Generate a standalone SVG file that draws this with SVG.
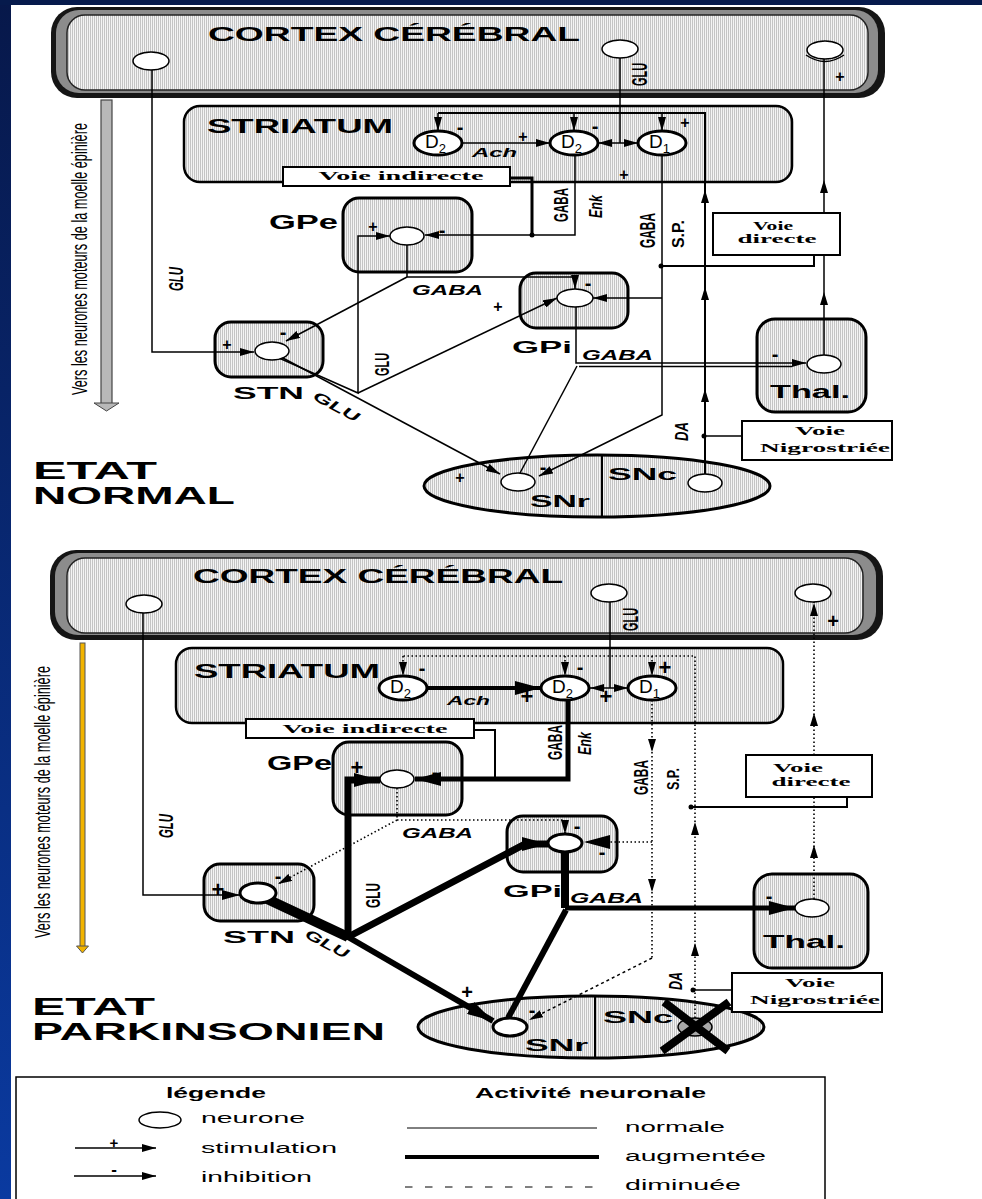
<svg xmlns="http://www.w3.org/2000/svg" width="982" height="1199" viewBox="0 0 982 1199">
<defs>
<linearGradient id="blue" x1="0" y1="0" x2="0" y2="1"><stop offset="0" stop-color="#07184a"/><stop offset="1" stop-color="#0a3aa0"/></linearGradient>
<pattern id="hatch" width="2" height="4" patternUnits="userSpaceOnUse"><rect width="2" height="4" fill="#f4f4f4"/><rect width="1" height="4" fill="#c4c4c4"/></pattern>
<marker id="ar" viewBox="0 0 14 8" refX="14" refY="4" markerWidth="14" markerHeight="8" markerUnits="userSpaceOnUse" orient="auto"><path d="M0,0L14,4L0,8z"/></marker>
<marker id="arM" viewBox="0 0 18 10" refX="18" refY="5" markerWidth="18" markerHeight="10" markerUnits="userSpaceOnUse" orient="auto"><path d="M0,0L18,5L0,10z"/></marker>
<marker id="arB" viewBox="0 0 26 14" refX="26" refY="7" markerWidth="26" markerHeight="14" markerUnits="userSpaceOnUse" orient="auto"><path d="M0,0L26,7L0,14z"/></marker>
<path id="up" d="M0,0L-4,13L4,13z"/>
<path id="dn" d="M0,0L-4,-13L4,-13z"/>
</defs>
<style>
.t{font-family:"Liberation Sans",Arial,sans-serif;font-weight:bold;fill:#000}
.ti{font-family:"Liberation Sans",Arial,sans-serif;font-weight:bold;font-style:italic;fill:#000}
.r{font-family:"Liberation Sans",Arial,sans-serif;fill:#000}
.s{font-family:"Liberation Serif","Times New Roman",serif;font-weight:bold;fill:#000;text-anchor:middle}
.n{fill:#fff;stroke:#000;stroke-width:1.5}
.nk{fill:#fff;stroke:#000;stroke-width:3}
.box{fill:url(#hatch);stroke:#000;stroke-width:3}
.c{fill:none;stroke:#000;stroke-width:1.5}
.cd{fill:none;stroke:#000;stroke-width:1.6;stroke-dasharray:1.5 2.5}
.vb{fill:#fff;stroke:#000;stroke-width:2}
.sg{font-family:"Liberation Sans",Arial,sans-serif;font-weight:bold;text-anchor:middle;fill:#000}
</style>

<rect width="982" height="1199" fill="#fff"/>
<rect x="0" y="0" width="11" height="1199" fill="url(#blue)"/>
<rect x="0" y="0" width="982" height="5" fill="#061a4c"/>

<!-- ===================== NORMAL STATE ===================== -->
<g id="cortex-normal">
<rect x="51" y="7" width="834" height="91" rx="26" fill="#151515"/>
<rect x="56" y="10" width="822" height="83" rx="23" fill="#8c8c8c"/>
<rect x="67" y="15" width="801" height="75" rx="18" fill="url(#hatch)" stroke="#222" stroke-width="1.5"/>
<text class="t" x="208" y="41" font-size="20" textLength="372" lengthAdjust="spacingAndGlyphs">CORTEX CÉRÉBRAL</text>
<ellipse class="n" cx="151" cy="61" rx="18" ry="9"/>
<ellipse class="n" cx="620" cy="49" rx="18" ry="9"/>
<ellipse class="n" cx="825" cy="50" rx="18" ry="9"/>
<path class="c" d="M806,55 Q825,68 844,55"/>
</g>

<g id="spinal-normal">
<rect x="101" y="100" width="11" height="304" fill="#b8b8b8" stroke="#444" stroke-width="1.2"/>
<polygon points="94,403 119,403 106.5,411" fill="#b8b8b8" stroke="#444"/>
<text class="r" transform="translate(87,395) rotate(-90) scale(1,1.9)" font-size="12" textLength="272" lengthAdjust="spacingAndGlyphs">Vers les neurones moteurs de la moelle épinière</text>
</g>

<g id="striatum-normal">
<rect class="box" x="184" y="106" width="608" height="76" rx="16" style="stroke-width:2.5"/>
<text class="t" x="207" y="133" font-size="20" textLength="186" lengthAdjust="spacingAndGlyphs">STRIATUM</text>
</g>
<g id="voie-indirecte-normal">
<rect class="vb" x="283" y="167" width="227" height="19"/>
<text class="s" x="401" y="180" font-size="13" textLength="165" lengthAdjust="spacingAndGlyphs">Voie indirecte</text>
</g>
<g id="gpe-normal">
<rect class="box" x="343" y="198" width="129" height="74" rx="16"/>
<text class="t" x="269" y="229" font-size="20" textLength="69" lengthAdjust="spacingAndGlyphs">GPe</text>
</g>
<g id="gpi-normal">
<rect class="box" x="520" y="273" width="108" height="55" rx="16"/>
<text class="t" x="512" y="353" font-size="17" textLength="60" lengthAdjust="spacingAndGlyphs">GPi</text>
</g>
<g id="stn-normal">
<rect class="box" x="215" y="322" width="108" height="55" rx="16"/>
<text class="t" x="233" y="399" font-size="17" textLength="71" lengthAdjust="spacingAndGlyphs">STN</text>
</g>
<g id="thal-normal">
<rect class="box" x="757" y="319" width="109" height="93" rx="18"/>
<text class="t" x="770" y="398" font-size="18" textLength="80" lengthAdjust="spacingAndGlyphs">Thal.</text>
</g>
<g id="sn-normal">
<ellipse cx="597" cy="486" rx="173" ry="31" fill="url(#hatch)" stroke="#000" stroke-width="3"/>
<line x1="602" y1="455" x2="602" y2="517" stroke="#000" stroke-width="2"/>
<text class="t" x="608" y="480" font-size="17" textLength="69" lengthAdjust="spacingAndGlyphs">SNc</text>
<text class="t" x="530" y="507" font-size="17" textLength="60" lengthAdjust="spacingAndGlyphs">SNr</text>
</g>
<g id="voie-directe-normal">
<rect class="vb" x="713" y="213" width="127" height="42"/>
<text class="s" x="773" y="230" font-size="13" textLength="40" lengthAdjust="spacingAndGlyphs">Voie</text>
<text class="s" x="777" y="243" font-size="13" textLength="79" lengthAdjust="spacingAndGlyphs">directe</text>
</g>
<g id="voie-nigro-normal">
<rect class="vb" x="742" y="421" width="150" height="39"/>
<text class="s" x="820" y="435" font-size="13" textLength="50" lengthAdjust="spacingAndGlyphs">Voie</text>
<text class="s" x="825" y="452" font-size="13" textLength="130" lengthAdjust="spacingAndGlyphs">Nigrostriée</text>
</g>

<g id="connectors-normal">
<path class="c" d="M152,70 V352 H254" marker-end="url(#ar)"/>
<path class="c" style="stroke-width:2" d="M705,474 V113 H438"/>
<path class="c" d="M438,113 V131" marker-end="url(#ar)"/>
<path class="c" d="M574,113 V131" marker-end="url(#ar)"/>
<path class="c" d="M662,113 V131" marker-end="url(#ar)"/>
<use href="#up" x="705" y="190"/>
<use href="#up" x="705" y="287"/>
<use href="#up" x="705" y="389"/>
<path class="c" d="M463,143 H550" marker-end="url(#ar)"/>
<path class="c" d="M620,58 V143"/>
<path class="c" d="M620,143 H598" marker-end="url(#ar)"/>
<path class="c" d="M620,143 H638" marker-end="url(#ar)"/>
<path class="c" d="M575,155 V235 H425" marker-end="url(#ar)"/>
<path class="c" style="stroke-width:3" d="M511,178 H532 V235"/>
<circle cx="532" cy="235" r="2.5"/>
<path class="c" d="M662,155 V415 L539,476" marker-end="url(#ar)"/>
<path class="c" d="M662,298 H593" marker-end="url(#ar)"/>
<path class="c" style="stroke-width:2" d="M661,266 H814 V255"/>
<circle cx="661" cy="266" r="2.5"/>
<path class="c" d="M824,355 V255"/>
<path class="c" d="M824,213 V59"/>
<use href="#up" x="824" y="180"/>
<use href="#up" x="824" y="292"/>
<path class="c" d="M407,245 V277 H575 V289" marker-end="url(#ar)"/>
<path class="c" d="M407,277 L286,341" marker-end="url(#ar)"/>
<path class="c" d="M279,358 L358,393 V236 H390" marker-end="url(#ar)"/>
<path class="c" d="M358,393 L557,298" marker-end="url(#ar)"/>
<path class="c" d="M281,357 L500,474" marker-end="url(#ar)"/>
<path class="c" d="M576,307 V363 H806" marker-end="url(#ar)"/>
<path class="c" d="M579,366.5 H792"/>
<path class="c" d="M577,366 L520,473"/>
<path class="c" d="M705,436 H742"/>
<circle cx="704" cy="436" r="2.5"/>
</g>

<g id="neurons-normal">
<ellipse class="n" cx="407" cy="236" rx="17" ry="9"/>
<ellipse class="n" cx="575" cy="298" rx="18" ry="9"/>
<ellipse class="n" cx="272" cy="351" rx="17" ry="9"/>
<ellipse class="n" cx="824" cy="364" rx="17" ry="9"/>
<ellipse class="n" cx="518" cy="482" rx="17" ry="9"/>
<ellipse class="n" cx="705" cy="483" rx="17" ry="9"/>
<g id="d2a-normal"><ellipse class="nk" cx="438" cy="143" rx="24" ry="12"/><text class="r" x="425" y="148" font-size="19">D<tspan dy="5" font-size="13">2</tspan></text></g>
<g id="d2b-normal"><ellipse class="nk" cx="574" cy="143" rx="24" ry="12"/><text class="r" x="561" y="148" font-size="19">D<tspan dy="5" font-size="13">2</tspan></text></g>
<g id="d1-normal"><ellipse class="nk" cx="662" cy="143" rx="24" ry="12"/><text class="r" x="649" y="148" font-size="19">D<tspan dy="5" font-size="13">1</tspan></text></g>
</g>

<g id="labels-normal">
<text class="sg" x="227" y="350" font-size="16">+</text>
<text class="sg" x="283" y="339" font-size="20">-</text>
<text class="sg" x="460" y="134" font-size="20">-</text>
<text class="sg" x="523" y="142" font-size="16">+</text>
<text class="sg" x="595" y="133" font-size="20">-</text>
<text class="sg" x="685" y="128" font-size="16">+</text>
<text class="sg" x="624" y="180" font-size="16">+</text>
<text class="sg" x="840" y="82" font-size="16">+</text>
<text class="sg" x="373" y="232" font-size="16">+</text>
<text class="sg" x="442" y="237" font-size="20">-</text>
<text class="sg" x="588" y="290" font-size="20">-</text>
<text class="sg" x="498" y="312" font-size="16">+</text>
<text class="sg" x="775" y="361" font-size="20">-</text>
<text class="sg" x="543" y="474" font-size="20">-</text>
<text class="sg" x="460" y="483" font-size="16">+</text>
<text class="ti" transform="translate(183,291) rotate(-90)" font-size="20" textLength="24" lengthAdjust="spacingAndGlyphs">GLU</text>
<text class="t" transform="translate(647,86) rotate(-90)" font-size="22" textLength="23" lengthAdjust="spacingAndGlyphs">GLU</text>
<text class="t" transform="translate(568,222) rotate(-90)" font-size="21" textLength="34" lengthAdjust="spacingAndGlyphs">GABA</text>
<text class="ti" transform="translate(602,218) rotate(-90)" font-size="19" textLength="23" lengthAdjust="spacingAndGlyphs">Enk</text>
<text class="t" transform="translate(655,248) rotate(-90)" font-size="22" textLength="35" lengthAdjust="spacingAndGlyphs">GABA</text>
<text class="t" transform="translate(684,248) rotate(-90)" font-size="17" textLength="28" lengthAdjust="spacingAndGlyphs">S.P.</text>
<text class="t" transform="translate(389,376) rotate(-90)" font-size="20" textLength="23" lengthAdjust="spacingAndGlyphs">GLU</text>
<text class="ti" transform="translate(688,441) rotate(-90)" font-size="18" textLength="19" lengthAdjust="spacingAndGlyphs">DA</text>
<text class="ti" x="412" y="295" font-size="14" textLength="71" lengthAdjust="spacingAndGlyphs">GABA</text>
<text class="ti" x="582" y="360" font-size="14" textLength="71" lengthAdjust="spacingAndGlyphs">GABA</text>
<text class="ti" x="472" y="157" font-size="13" textLength="45" lengthAdjust="spacingAndGlyphs">Ach</text>
<text class="ti" transform="translate(312,399) rotate(28)" font-size="14" textLength="50" lengthAdjust="spacingAndGlyphs">GLU</text>
<text class="t" x="33" y="479" font-size="24" textLength="124" lengthAdjust="spacingAndGlyphs">ETAT</text>
<text class="t" x="33" y="504" font-size="24" textLength="202" lengthAdjust="spacingAndGlyphs">NORMAL</text>
</g>

<!-- ===================== PARKINSONIAN STATE ===================== -->
<g id="cortex-park">
<rect x="50" y="550" width="833" height="90" rx="26" fill="#151515"/>
<rect x="55" y="553" width="821" height="82" rx="23" fill="#8c8c8c"/>
<rect x="67" y="558" width="796" height="75" rx="18" fill="url(#hatch)" stroke="#222" stroke-width="1.5"/>
<text class="t" x="193" y="583" font-size="20" textLength="370" lengthAdjust="spacingAndGlyphs">CORTEX CÉRÉBRAL</text>
<ellipse class="n" cx="144" cy="604" rx="18" ry="9"/>
<ellipse class="n" cx="609" cy="593" rx="18" ry="9"/>
<ellipse class="n" cx="813" cy="593" rx="18" ry="9"/>
</g>

<g id="spinal-park">
<rect x="80" y="643" width="5" height="304" fill="#f2b400" stroke="#555" stroke-width="1"/>
<polygon points="76.5,946 88.5,946 82.5,953" fill="#f2b400" stroke="#555" stroke-width="1"/>
<text class="r" transform="translate(50,938) rotate(-90) scale(1,1.9)" font-size="12" textLength="272" lengthAdjust="spacingAndGlyphs">Vers les neurones moteurs de la moelle épinière</text>
</g>

<g id="striatum-park">
<rect class="box" x="176" y="648" width="607" height="75" rx="16" style="stroke-width:2.5"/>
<text class="t" x="194" y="678" font-size="20" textLength="186" lengthAdjust="spacingAndGlyphs">STRIATUM</text>
</g>
<g id="voie-indirecte-park">
<rect class="vb" x="246" y="719" width="228" height="19"/>
<text class="s" x="365" y="733" font-size="13" textLength="165" lengthAdjust="spacingAndGlyphs">Voie indirecte</text>
</g>
<g id="gpe-park">
<rect class="box" x="333" y="742" width="129" height="73" rx="16"/>
<text class="t" x="267" y="770" font-size="20" textLength="65" lengthAdjust="spacingAndGlyphs">GPe</text>
</g>
<g id="gpi-park">
<rect class="box" x="507" y="816" width="110" height="56" rx="16"/>
<text class="t" x="503" y="897" font-size="17" textLength="59" lengthAdjust="spacingAndGlyphs">GPi</text>
</g>
<g id="stn-park">
<rect class="box" x="204" y="864" width="110" height="57" rx="16"/>
<text class="t" x="223" y="943" font-size="17" textLength="72" lengthAdjust="spacingAndGlyphs">STN</text>
</g>
<g id="thal-park">
<rect class="box" x="754" y="874" width="114" height="94" rx="18"/>
<text class="t" x="763" y="948" font-size="18" textLength="82" lengthAdjust="spacingAndGlyphs">Thal.</text>
</g>
<g id="sn-park">
<ellipse cx="591" cy="1027" rx="173" ry="31" fill="url(#hatch)" stroke="#000" stroke-width="3"/>
<line x1="595" y1="997" x2="595" y2="1058" stroke="#000" stroke-width="2"/>
<text class="t" x="603" y="1023" font-size="17" textLength="70" lengthAdjust="spacingAndGlyphs">SNc</text>
<text class="t" x="525" y="1051" font-size="17" textLength="63" lengthAdjust="spacingAndGlyphs">SNr</text>
</g>
<g id="voie-directe-park">
<rect class="vb" x="746" y="755" width="126" height="42"/>
<text class="s" x="798" y="772" font-size="13" textLength="50" lengthAdjust="spacingAndGlyphs">Voie</text>
<text class="s" x="811" y="786" font-size="13" textLength="79" lengthAdjust="spacingAndGlyphs">directe</text>
</g>
<g id="voie-nigro-park">
<rect class="vb" x="732" y="973" width="150" height="39"/>
<text class="s" x="810" y="987" font-size="13" textLength="50" lengthAdjust="spacingAndGlyphs">Voie</text>
<text class="s" x="815" y="1004" font-size="13" textLength="130" lengthAdjust="spacingAndGlyphs">Nigrostriée</text>
</g>

<g id="connectors-park">
<path class="c" d="M143,613 V895 H240" marker-end="url(#arM)"/>
<path class="cd" d="M695,1018 V656 H403"/>
<path class="cd" d="M403,656 V676" marker-end="url(#ar)"/>
<path class="cd" d="M565,656 V676" marker-end="url(#ar)"/>
<path class="cd" d="M652,656 V676" marker-end="url(#ar)"/>
<use href="#up" x="695" y="822"/>
<use href="#up" x="695" y="943"/>
<path class="c" style="stroke-width:4" d="M428,688 H541" marker-end="url(#arB)"/>
<path class="c" d="M610,602 V688"/>
<path class="c" d="M610,688 H590" marker-end="url(#ar)"/>
<path class="c" d="M610,688 H628" marker-end="url(#ar)"/>
<path class="c" style="stroke-width:5" d="M568,700 V779 H415" marker-end="url(#arB)"/>
<path class="c" style="stroke-width:2" d="M474,730 H495 V780"/>
<path class="cd" d="M652,700 V958"/>
<use href="#dn" x="652" y="752"/>
<use href="#dn" x="652" y="892"/>
<path class="c" stroke-dasharray="3 3" d="M652,958 L529,1020" marker-end="url(#ar)"/>
<path class="cd" d="M652,842 H584" marker-end="url(#arB)"/>
<path class="c" style="stroke-width:2" d="M691,807 H847 V797"/>
<circle cx="691" cy="807" r="2.5"/>
<path class="cd" d="M814,899 V797"/>
<path class="cd" d="M814,755 V602"/>
<use href="#up" x="814" y="603"/>
<use href="#up" x="814" y="713"/>
<use href="#up" x="814" y="845"/>
<path class="cd" d="M397,788 V820 H565 V834" marker-end="url(#ar)"/>
<path class="cd" d="M397,820 L278,884" marker-end="url(#ar)"/>
<path class="c" style="stroke-width:10" d="M265,898 L348,937"/>
<path class="c" style="stroke-width:7" d="M348,940 V780 H380" marker-end="url(#arB)"/>
<path class="c" style="stroke-width:7" d="M348,937 L525,844 H548" marker-end="url(#arB)"/>
<path class="c" style="stroke-width:6" d="M348,937 L493,1021" marker-end="url(#arB)"/>
<path class="c" style="stroke-width:8" d="M565,852 V908"/>
<path class="c" style="stroke-width:5" d="M565,908 H795" marker-end="url(#arB)"/>
<path class="c" style="stroke-width:6" d="M566,910 L508,1018"/>
<path class="c" d="M693,990 H732"/>
<circle cx="693" cy="990" r="2.5"/>
</g>

<g id="neurons-park">
<ellipse class="n" cx="397" cy="779" rx="17" ry="9"/>
<ellipse class="nk" cx="565" cy="843" rx="17" ry="9"/>
<ellipse class="nk" cx="258" cy="893" rx="18" ry="10"/>
<ellipse class="n" cx="812" cy="908" rx="17" ry="9"/>
<ellipse class="nk" cx="510" cy="1027" rx="17" ry="9"/>
<ellipse cx="695" cy="1027" rx="17" ry="9" fill="#a8a8a8" stroke="#000" stroke-width="1.5"/>
<path d="M664,1002 L728,1051 M729,1002 L662,1051" stroke="#000" stroke-width="8" fill="none"/>
<g id="d2a-park"><ellipse class="nk" cx="403" cy="688" rx="24" ry="12"/><text class="r" x="390" y="693" font-size="19">D<tspan dy="5" font-size="13">2</tspan></text></g>
<g id="d2b-park"><ellipse class="nk" cx="565" cy="688" rx="24" ry="12"/><text class="r" x="552" y="693" font-size="19">D<tspan dy="5" font-size="13">2</tspan></text></g>
<g id="d1-park"><ellipse class="nk" cx="652" cy="688" rx="24" ry="12"/><text class="r" x="639" y="693" font-size="19">D<tspan dy="5" font-size="13">1</tspan></text></g>
</g>

<g id="labels-park">
<text class="sg" x="218" y="897" font-size="22">+</text>
<text class="sg" x="278" y="883" font-size="20">-</text>
<text class="sg" x="422" y="675" font-size="20">-</text>
<text class="sg" x="527" y="704" font-size="22">+</text>
<text class="sg" x="580" y="674" font-size="20">-</text>
<text class="sg" x="665" y="675" font-size="22">+</text>
<text class="sg" x="606" y="704" font-size="22">+</text>
<text class="sg" x="833" y="628" font-size="20">+</text>
<text class="sg" x="357" y="775" font-size="22">+</text>
<text class="sg" x="435" y="779" font-size="20">-</text>
<text class="sg" x="577" y="833" font-size="20">-</text>
<text class="sg" x="602" y="859" font-size="20">-</text>
<text class="sg" x="769" y="903" font-size="20">-</text>
<text class="sg" x="532" y="1017" font-size="20">-</text>
<text class="sg" x="467" y="999" font-size="20">+</text>
<text class="ti" transform="translate(173,838) rotate(-90)" font-size="20" textLength="24" lengthAdjust="spacingAndGlyphs">GLU</text>
<text class="t" transform="translate(638,631) rotate(-90)" font-size="22" textLength="23" lengthAdjust="spacingAndGlyphs">GLU</text>
<text class="t" transform="translate(562,760) rotate(-90)" font-size="21" textLength="35" lengthAdjust="spacingAndGlyphs">GABA</text>
<text class="ti" transform="translate(591,755) rotate(-90)" font-size="19" textLength="23" lengthAdjust="spacingAndGlyphs">Enk</text>
<text class="t" transform="translate(648,795) rotate(-90)" font-size="21" textLength="35" lengthAdjust="spacingAndGlyphs">GABA</text>
<text class="t" transform="translate(679,790) rotate(-90)" font-size="16" textLength="22" lengthAdjust="spacingAndGlyphs">S.P.</text>
<text class="t" transform="translate(380,908) rotate(-90)" font-size="20" textLength="25" lengthAdjust="spacingAndGlyphs">GLU</text>
<text class="ti" transform="translate(682,990) rotate(-90)" font-size="18" textLength="18" lengthAdjust="spacingAndGlyphs">DA</text>
<text class="ti" x="402" y="838" font-size="14" textLength="71" lengthAdjust="spacingAndGlyphs">GABA</text>
<text class="ti" x="570" y="903" font-size="14" textLength="73" lengthAdjust="spacingAndGlyphs">GABA</text>
<text class="ti" x="447" y="705" font-size="13" textLength="43" lengthAdjust="spacingAndGlyphs">Ach</text>
<text class="ti" transform="translate(304,937) rotate(28)" font-size="14" textLength="47" lengthAdjust="spacingAndGlyphs">GLU</text>
<text class="t" x="32" y="1015" font-size="24" textLength="123" lengthAdjust="spacingAndGlyphs">ETAT</text>
<text class="t" x="32" y="1040" font-size="24" textLength="353" lengthAdjust="spacingAndGlyphs">PARKINSONIEN</text>
</g>

<!-- ===================== LEGEND ===================== -->
<g id="legend">
<rect x="16" y="1077" width="809" height="130" fill="#fff" stroke="#000" stroke-width="1.5"/>
<text class="t" x="166" y="1098" font-size="14" textLength="100" lengthAdjust="spacingAndGlyphs">légende</text>
<ellipse class="n" cx="160" cy="1120" rx="21" ry="8"/>
<text class="r" x="201" y="1123" font-size="14" textLength="104" lengthAdjust="spacingAndGlyphs">neurone</text>
<path class="c" d="M75,1148 H156" marker-end="url(#ar)"/>
<text class="sg" x="114" y="1148" font-size="15">+</text>
<text class="r" x="201" y="1153" font-size="14" textLength="136" lengthAdjust="spacingAndGlyphs">stimulation</text>
<path class="c" d="M74,1176 H156" marker-end="url(#ar)"/>
<text class="sg" x="114" y="1175" font-size="17">-</text>
<text class="r" x="201" y="1182" font-size="14" textLength="111" lengthAdjust="spacingAndGlyphs">inhibition</text>
<text class="t" x="475" y="1098" font-size="14" textLength="231" lengthAdjust="spacingAndGlyphs">Activité neuronale</text>
<path d="M407,1128 H597" stroke="#000" stroke-width="1"/>
<text class="r" x="625" y="1132" font-size="14" textLength="100" lengthAdjust="spacingAndGlyphs">normale</text>
<path d="M405,1157 H599" stroke="#000" stroke-width="4"/>
<text class="r" x="625" y="1161" font-size="14" textLength="141" lengthAdjust="spacingAndGlyphs">augmentée</text>
<path d="M405,1187 H594" stroke="#000" stroke-width="1" stroke-dasharray="7.5 12.5"/>
<text class="r" x="625" y="1190" font-size="14" textLength="116" lengthAdjust="spacingAndGlyphs">diminuée</text>
</g>
</svg>
